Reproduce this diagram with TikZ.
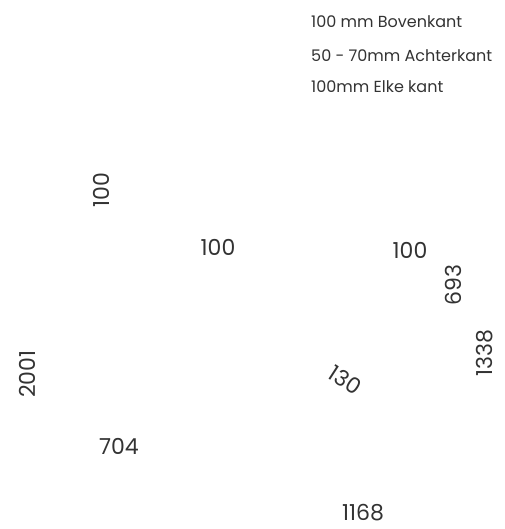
\documentclass[tikz,border=0pt]{standalone}
\usepackage{fontspec}
\setmainfont{Poppins}
\usepackage{tikz}
\definecolor{maat}{HTML}{333333}
\tikzset{
  dim/.style={text=maat, inner sep=0pt, font=\fontsize{22}{25}\selectfont},
  legenda/.style={text=maat, inner sep=0pt, anchor=west, font=\fontsize{16}{18}\selectfont}
}

\begin{document}
\begin{tikzpicture}[x=1pt,y=-1pt]%
  \useasboundingbox (0,0) rectangle (504,529);

  % legenda
  \node[legenda] (l1) at (311,22) {100 mm Bovenkant};
  \node[legenda] (l2) at (311,56) {50 - 70mm Achterkant};
  \node[legenda] (l3) at (311,87) {100mm Elke kant};

  % maten
  \node[dim, rotate=90] (d1) at (101,190) {100};
  \node[dim] (d2) at (218,247) {100};
  \node[dim] (d3) at (410,250) {100};
  \node[dim, rotate=90] (d4) at (453,285) {693};
  \node[dim, rotate=90] (d5) at (485,353) {1338};
  \node[dim, rotate=-33] (d6) at (345,380) {130};
  \node[dim, rotate=90] (d7) at (27,374) {2001};
  \node[dim] (d8) at (119,446) {704};
  \node[dim] (d9) at (363,513) {1168};
\end{tikzpicture}
\end{document}
